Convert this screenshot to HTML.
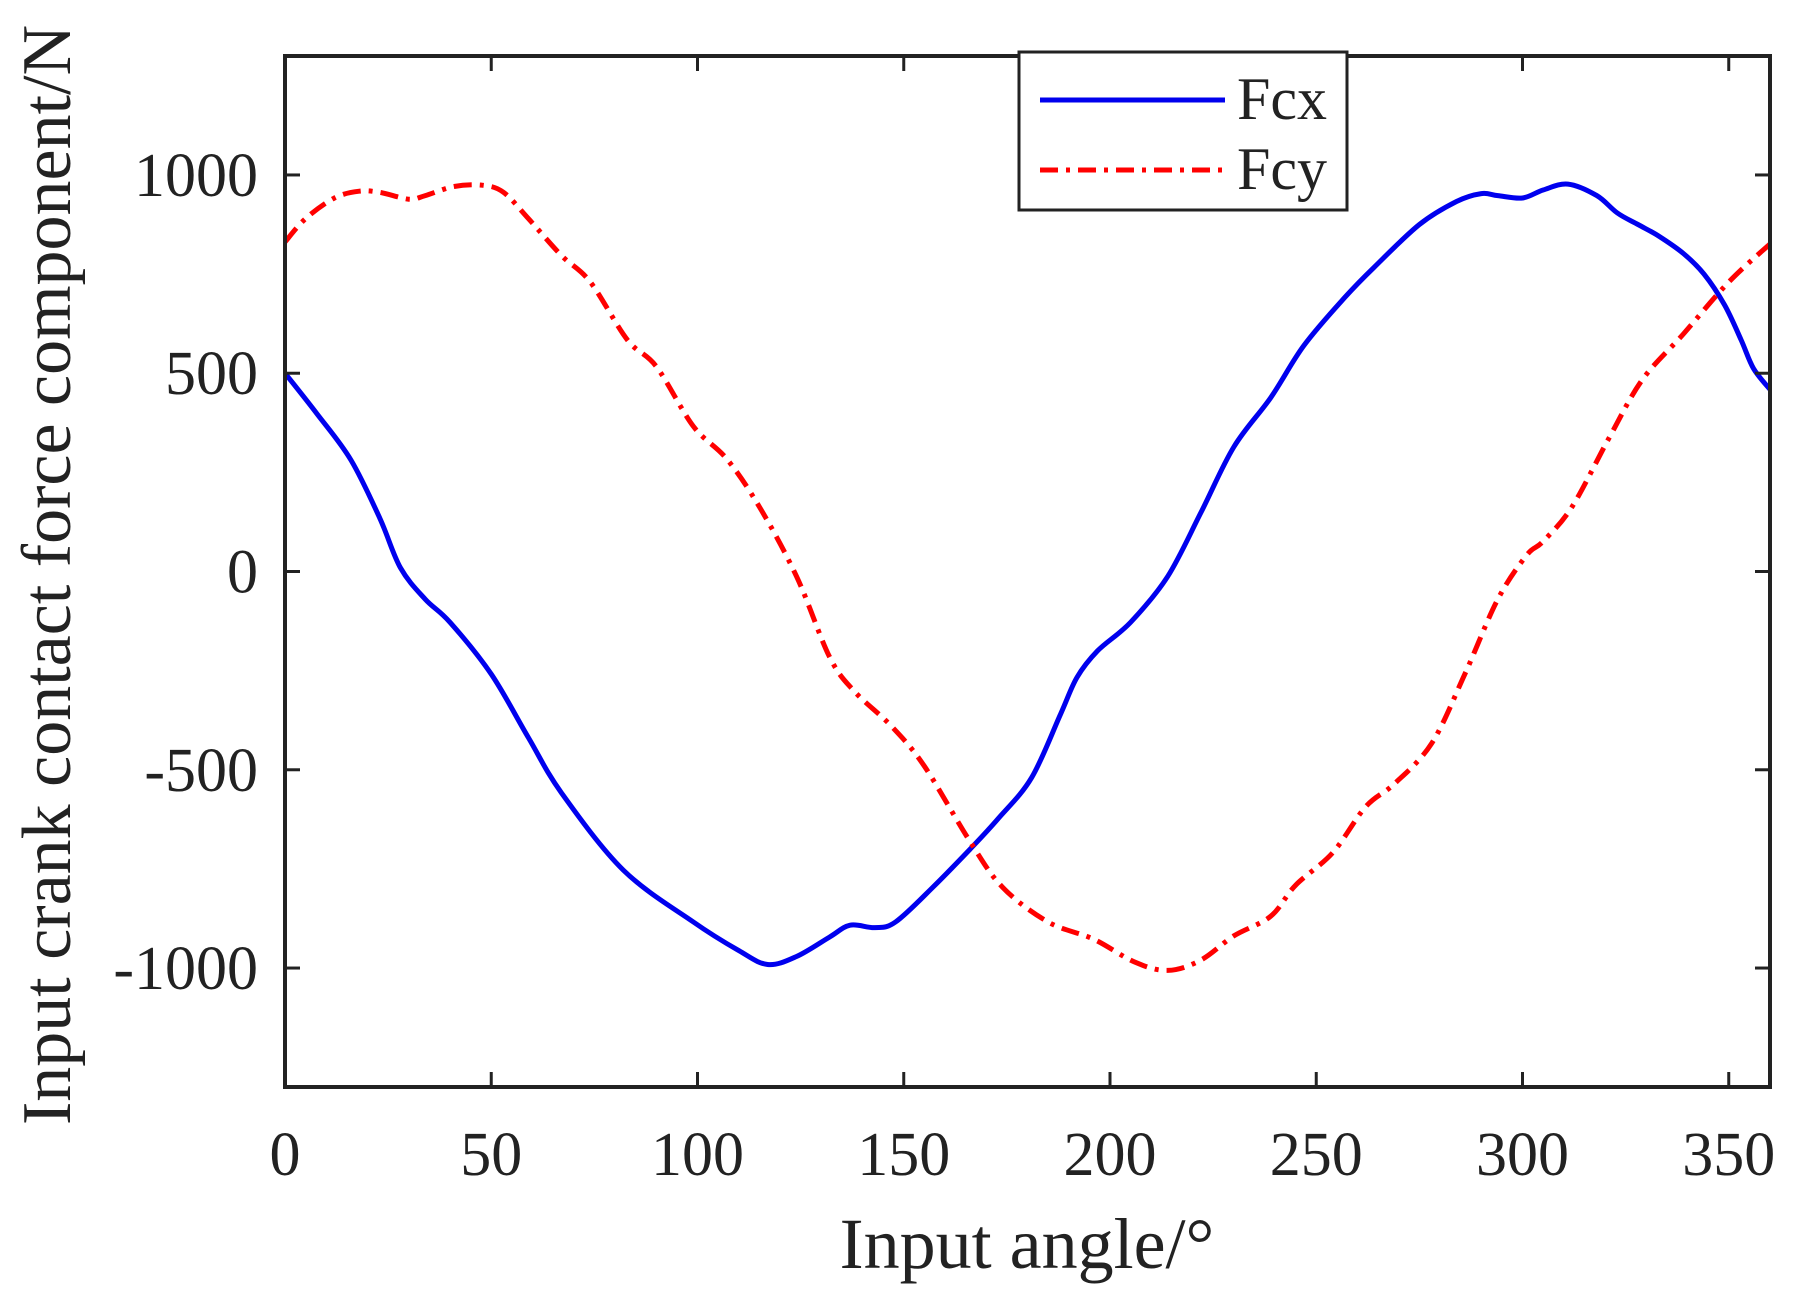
<!DOCTYPE html>
<html><head><meta charset="utf-8"><style>
html,body{margin:0;padding:0;background:#fff;}
svg{display:block;font-family:"Liberation Serif",serif;}
</style></head><body>
<svg id="chart" width="1807" height="1299" viewBox="0 0 1807 1299">
<g id="grid"></g>
<g id="series"></g>
<rect x="285" y="56" width="1485" height="1031" fill="none" stroke="#222" stroke-width="4"/>
<g id="ticks"></g>
<text x="1027" y="1268" font-size="72" text-anchor="middle" fill="#222">Input angle/°</text>
<text transform="translate(70,575) rotate(-90)" font-size="70" text-anchor="middle" fill="#222">Input crank contact force component/N</text>
<g>
<rect x="1019" y="52" width="328" height="158" fill="#fff" stroke="#222" stroke-width="3"/>
<line x1="1040" y1="100" x2="1225" y2="100" stroke="#0000ee" stroke-width="5"/>
<text x="1237" y="119" font-size="60" fill="#222">Fcx</text>
<line x1="1040" y1="170" x2="1225" y2="170" stroke="#ff0000" stroke-width="5" stroke-dasharray="18,8,4,8"/>
<text x="1237" y="189" font-size="60" fill="#222">Fcy</text>
</g>
</svg>
<script>
const xTicks=[0,50,100,150,200,250,300,350];
const yTicks=[-1000,-500,0,500,1000];
const fcxAngle=[0,7.8,16,23,28,34,40,50,59,67,82,99,110,117,124,132,137,143,148,157,166,173,181,188,192,197,205,214,222,230,239,247,257,264,275,284,290,294,300,305,311,318,323,328,333,339,344,349,353,356,360];
const fcxValue=[500,397,281,134,9,-70,-128,-259,-419,-558,-753,-884,-956,-991,-971,-922,-892,-898,-884,-797,-701,-622,-520,-360,-267,-200,-128,-12,148,314,439,570,692,767,875,933,953,948,942,962,977,948,904,875,846,802,750,672,584,512,459];
const fcyAngle=[0,5,12,18,23,30,34,41,48,53,59,67,74,83,90,99,107,115,124,132,138,147,155,166,174,185,196,206,214,222,230,239,245,254,262,269,278,286,294,301,305,312,321,329,339,350,360];
const fcyValue=[831,890,942,959,956,939,948,971,974,956,890,797,730,584,517,366,285,163,-12,-215,-302,-390,-491,-680,-797,-884,-927,-985,-1006,-980,-919,-869,-791,-709,-593,-535,-433,-259,-70,41,76,163,337,483,599,730,826];
const L=285,R=1770,T=56,B=1087;
const xs=v=>L+(v/360)*(R-L);
const ys=v=>B-((v+1300)/2600)*(B-T);
const NS="http://www.w3.org/2000/svg";
const tg=document.getElementById('ticks');
xTicks.forEach(t=>{
  const x=xs(t);
  const l1=document.createElementNS(NS,'line');
  l1.setAttribute('x1',x);l1.setAttribute('x2',x);l1.setAttribute('y1',B);l1.setAttribute('y2',B-15);
  l1.setAttribute('stroke','#222');l1.setAttribute('stroke-width','3');
  
  
  tg.appendChild(l1);
  const l2=document.createElementNS(NS,'line');
  l2.setAttribute('x1',x);l2.setAttribute('x2',x);l2.setAttribute('y1',T);l2.setAttribute('y2',T+15);
  l2.setAttribute('stroke','#222');l2.setAttribute('stroke-width','3');
  
  
  tg.appendChild(l2);
  const tx=document.createElementNS(NS,'text');
  tx.setAttribute('x',x);tx.setAttribute('y',1175);tx.setAttribute('font-size','62');
  tx.setAttribute('text-anchor','middle');tx.setAttribute('fill','#222');
  tx.textContent=t;
  
  
  tg.appendChild(tx);
});
yTicks.forEach(t=>{
  const y=ys(t);
  const l1=document.createElementNS(NS,'line');
  l1.setAttribute('x1',L);l1.setAttribute('x2',L+15);l1.setAttribute('y1',y);l1.setAttribute('y2',y);
  l1.setAttribute('stroke','#222');l1.setAttribute('stroke-width','3');
  
  
  tg.appendChild(l1);
  const l2=document.createElementNS(NS,'line');
  l2.setAttribute('x1',R);l2.setAttribute('x2',R-15);l2.setAttribute('y1',y);l2.setAttribute('y2',y);
  l2.setAttribute('stroke','#222');l2.setAttribute('stroke-width','3');
  
  
  tg.appendChild(l2);
  const tx=document.createElementNS(NS,'text');
  tx.setAttribute('x',258);tx.setAttribute('y',y+21);tx.setAttribute('font-size','62');
  tx.setAttribute('text-anchor','end');tx.setAttribute('fill','#222');
  tx.textContent=t;
  
  
  tg.appendChild(tx);
});
const sg=document.getElementById('series');
function pathOf(a,v){
  const p=a.map((d,i)=>[xs(d),ys(v[i])]);
  let s='M'+p[0][0].toFixed(1)+','+p[0][1].toFixed(1);
  for(let i=0;i<p.length-1;i++){
    const p0=p[Math.max(0,i-1)],p1=p[i],p2=p[i+1],p3=p[Math.min(p.length-1,i+2)];
    const c1=[p1[0]+(p2[0]-p0[0])/6,p1[1]+(p2[1]-p0[1])/6];
    const c2=[p2[0]-(p3[0]-p1[0])/6,p2[1]-(p3[1]-p1[1])/6];
    s+=' C'+c1[0].toFixed(1)+','+c1[1].toFixed(1)+' '+c2[0].toFixed(1)+','+c2[1].toFixed(1)+' '+p2[0].toFixed(1)+','+p2[1].toFixed(1);
  }
  return s;
}
const p1=document.createElementNS(NS,'path');
p1.setAttribute('d',pathOf(fcxAngle,fcxValue));
p1.setAttribute('fill','none');p1.setAttribute('stroke','#0000ee');p1.setAttribute('stroke-width','5');p1.setAttribute('stroke-linejoin','round');


sg.appendChild(p1);
const p2=document.createElementNS(NS,'path');
p2.setAttribute('d',pathOf(fcyAngle,fcyValue));
p2.setAttribute('fill','none');p2.setAttribute('stroke','#ff0000');p2.setAttribute('stroke-width','5');p2.setAttribute('stroke-dasharray','18,8,4,8');p2.setAttribute('stroke-linejoin','round');


sg.appendChild(p2);
</script>
</body></html>
